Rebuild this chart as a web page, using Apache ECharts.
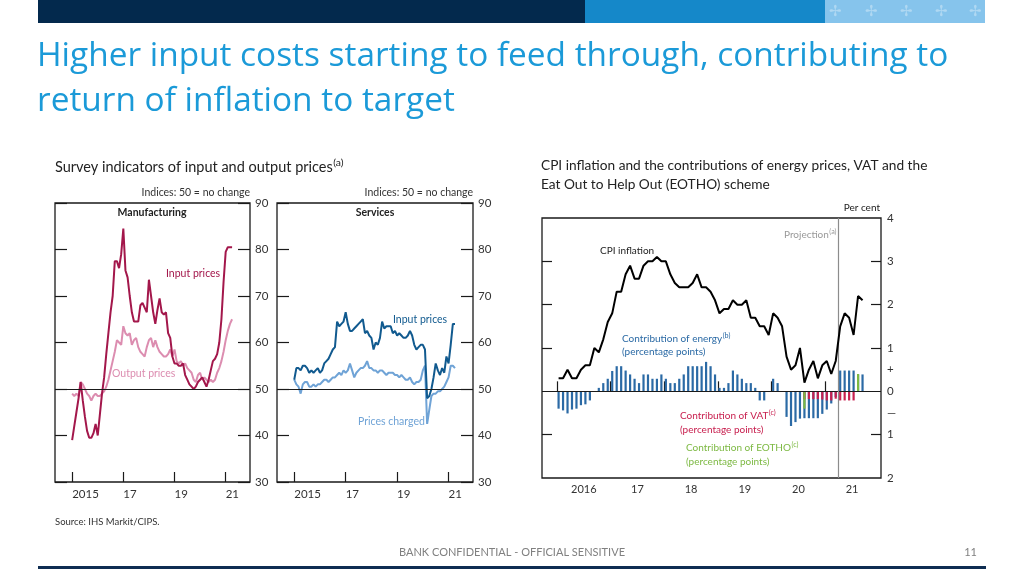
<!DOCTYPE html>
<html><head><meta charset="utf-8">
<script src="https://cdn.jsdelivr.net/npm/echarts@6/dist/echarts.min.js"></script>
<style>html,body{margin:0;padding:0;background:#fff}#c{width:1024px;height:576px}</style>
</head><body><div id="c"></div>
<script>
// ---------------- DATA ----------------
// Survey indicators, monthly from Jan 2015
const surveyStart = '2015-01';
const mfgInput = [39,42,45,48,51.5,47.5,44,41,39.5,39.5,40.5,42.5,
  40,44.5,49,52.5,57.5,62,66.5,70,77.5,77.5,76,79,
  84.5,75.5,74,70,66.5,64.5,64.5,64.5,68,68.5,67.5,66.5,
  73.5,70,66.5,64,67,69.5,66.5,66,66.5,62,61,57,
  55.5,55.5,55,55,55.5,53,52,51,50.5,50,50.5,51.5,
  52,52.5,51.5,50.5,52,54,56,56.5,57.5,60,65,73,79.5,80.5,80.5,80.5];
const mfgOutput = [49,48.5,49,48.5,51.5,51,50,49,48.5,47.5,48.5,49,
  48.5,48.5,49,49.5,50.5,52,54,56,58,60.5,60,59.5,
  63.5,62,61.5,62,59.5,60.5,61,59,58,57.5,57,59,
  60.5,61,59,60.5,59,58,57.5,57,57,57.5,58.5,57,
  58.5,56,55.5,56,55,55.5,54.5,54,53.5,52,51.5,53,
  53.5,52,52.5,52,51.5,52,51.5,52,53.5,54.5,56,58,60.5,62.5,64,65];
const svcInput = [52,54.5,54.5,54,55,55,54.5,53.5,54,53.5,54,54.5,
  53.5,54,55.5,56,56.5,57.5,58.5,59,64.5,63.5,64,64.5,
  66.5,64,62.5,62.5,63,63.5,64,64.5,65,62,62.5,61.5,
  61,58.5,60,59.5,61,64.5,63,63.5,63.5,63.5,62,62.5,
  61.5,62,61.5,61,61,61.5,62.5,61.5,59.5,58.5,59,59.5,
  59.5,58.5,48,48.5,50,52.5,55.5,54,53,54.5,53.5,57,55.5,59.5,64,64];
const svcCharged = [52,51,50.5,49,51,51.5,51.5,50.5,50.5,51,50.5,51,
  51,51.5,52,52,51.5,52,52.5,52.5,53,53.5,53,54,
  53.5,54,55.5,54,52.5,53.5,54,54.5,54.5,55,56,54.5,
  54.5,54,54,53.5,54,54,53.5,53,53.5,53.5,53.5,53,
  53,52.5,53,52.5,52,52,52.5,51.5,51,51.5,51.5,52,
  54,55,42.5,45.5,48.5,49,49,49.5,49.5,50,50.5,51.5,52.5,55,55,54.5];
const surveyYearTicks = [2015, 2017, 2019, 2021];

// CPI inflation and contributions, monthly from Jan 2016
const cpiStart = '2016-01';
const cpiInflation = [0.3,0.3,0.5,0.3,0.3,0.5,0.6,0.6,1.0,0.9,1.2,1.6,
  1.8,2.3,2.3,2.7,2.9,2.6,2.6,2.9,3.0,3.0,3.1,3.0,
  3.0,2.7,2.5,2.4,2.4,2.4,2.5,2.7,2.4,2.4,2.3,2.1,
  1.8,1.9,1.9,2.1,2.0,2.0,2.1,1.7,1.7,1.5,1.5,1.3,
  1.8,1.7,1.5,0.8,0.5,0.6,1.0,0.2,0.5,0.7,0.3,0.6,
  0.7,0.4,0.7,1.5,1.8,1.7,1.3,2.2,2.1];
const energyContribution = [-0.40,-0.44,-0.51,-0.42,-0.40,-0.32,-0.30,-0.21,0,0.08,0.19,0.29,
  0.47,0.58,0.58,0.48,0.39,0.29,0.19,0.39,0.39,0.29,0.29,0.39,
  0.29,0.19,0.19,0.29,0.39,0.58,0.58,0.58,0.58,0.68,0.58,0.39,
  0.08,0.08,0.19,0.48,0.39,0.29,0.19,0.19,0.08,-0.21,-0.21,0,
  0.29,0.19,0,-0.59,-0.80,-0.71,-0.63,-0.62,-0.62,-0.62,-0.62,-0.52,
  -0.42,-0.28,-0.13,0.48,0.48,0.48,0.48,0.39,0.39];
const vatContribution = [0,0,0,0,0,0,0,0,0,0,0,0,
  0,0,0,0,0,0,0,0,0,0,0,0,
  0,0,0,0,0,0,0,0,0,0,0,0,
  0,0,0,0,0,0,0,0,0,0,0,0,
  0,0,0,0,0,0,0,-0.18,-0.18,-0.18,-0.18,-0.19,
  -0.21,-0.21,-0.17,-0.21,-0.21,-0.21,-0.21,0,0];
const eothoContribution = [0,0,0,0,0,0,0,0,0,0,0,0,
  0,0,0,0,0,0,0,0,0,0,0,0,
  0,0,0,0,0,0,0,0,0,0,0,0,
  0,0,0,0,0,0,0,0,0,0,0,0,
  0,0,0,0,0,0,0,-0.40,0,0,0,0,
  0,0,0,0,0,0,0,0.40,0];
const cpiYearTicks = [2016, 2017, 2018, 2019, 2020, 2021];
const cpiYearLabels = ['2016', '17', '18', '19', '20', '21'];
const projectionStart = 2021.25;

// ---------------- HELPERS ----------------
const FONT = 'Lato, "Open Sans", sans-serif';
const TITLE_FONT = '"Open Sans", Lato, sans-serif';
function monthPos(start, i, off) {
  const p = start.split('-').map(Number);
  return p[0] + (p[1] - 1 + i + (off || 0)) / 12;
}
function pairs(start, vals, off) { return vals.map((v, i) => [monthPos(start, i, off), v]); }
const INK = '#1a1a1a';

const colMfgIn = '#a3174b', colMfgOut = '#dc8db0';
const colSvcIn = '#115a8f', colSvcOut = '#6fa3d6';
const colEnergy = '#2b6aa5', colVat = '#c8204f', colEotho = '#7db943';

const mctx = document.createElement('canvas').getContext('2d');
function measure(text, font) { mctx.font = font; return mctx.measureText(text).width; }

function surveyX(gi) {
  return { type: 'value', gridIndex: gi, min: 2014.33, max: 2021.95,
    axisLine: { show: false }, splitLine: { show: false },
    axisTick: { show: true, inside: true, length: 10, customValues: surveyYearTicks, lineStyle: { color: INK, width: 1.2 } },
    axisLabel: { customValues: surveyYearTicks, formatter: v => v === surveyYearTicks[0] ? String(v) : String(v).slice(2),
      align: 'left', color: '#333', fontSize: 11.5, margin: 6, fontFamily: FONT } };
}
function surveyY(gi, pos) {
  return { type: 'value', gridIndex: gi, position: pos, min: 30, max: 90, interval: 10,
    axisLine: { show: false }, splitLine: { show: false },
    axisTick: { show: true, inside: true, length: 12, lineStyle: { color: INK, width: 1.2 } },
    axisLabel: { show: pos === 'right', margin: 5, color: '#333', fontSize: 11.5, fontFamily: FONT } };
}
function cpiY(pos) {
  return { type: 'value', gridIndex: 2, position: pos, min: -2, max: 4,
    axisLine: { show: false }, splitLine: { show: false },
    axisTick: { show: true, inside: true, length: 10, customValues: [-1, 1, 2, 3], lineStyle: { color: INK, width: 1.2 } },
    axisLabel: { show: pos === 'right', customValues: [-2, -1, -0.5, 0, 0.5, 1, 2, 3, 4],
      formatter: v => v === 0.5 ? '+' : (v === -0.5 ? '—' : String(Math.abs(v))),
      margin: 6, color: '#333', fontSize: 11.5, fontFamily: FONT } };
}
const hLine = (val, axisKey, color) => ({ silent: true, symbol: 'none', animation: false,
  label: { show: false }, lineStyle: { color: color || INK, width: 1.2, type: 'solid' },
  data: [{ [axisKey]: val }] });

function fontStr(o) { return (o.weight || 'normal') + ' ' + (o.size || 11) + 'px ' + (o.family || FONT); }
function txt(x, y, text, o) {
  o = o || {};
  return { type: 'text', x: x, y: y, silent: true, z: 50,
    style: { text: text, fill: o.color || '#222', align: o.align || 'left', verticalAlign: 'middle', font: fontStr(o) } };
}
// main text plus a raised superscript placed just after it
function supTxt(x, y, main, sup, o) {
  o = o || {};
  const size = o.size || 11;
  const so = Object.assign({}, o, { size: Math.round(size * 0.72 * 10) / 10 });
  const wm = measure(main, fontStr(o)), ws = measure(sup, fontStr(so));
  const x0 = o.align === 'right' ? x - wm - ws : x;
  return [txt(x0, y, main, Object.assign({}, o, { align: 'left' })),
          txt(x0 + wm + 0.5, y - size * 0.32, sup, Object.assign({}, so, { align: 'left' }))];
}

// ---------------- CHART ----------------
const chart = echarts.init(document.getElementById('c'));
const gridStyle = { show: true, borderColor: INK, borderWidth: 1.3, backgroundColor: 'transparent' };

const graphics = [
  { type: 'rect', shape: { x: 38, y: 0, width: 547, height: 23 }, style: { fill: '#03294d' }, silent: true },
  { type: 'rect', shape: { x: 585, y: 0, width: 240, height: 23 }, style: { fill: '#1588c9' }, silent: true },
  { type: 'rect', shape: { x: 825, y: 0, width: 160, height: 23 }, style: { fill: '#86c4ec' }, silent: true },
  txt(37, 56, 'Higher input costs starting to feed through, contributing to', { size: 33.4, color: '#1b9ad8', family: TITLE_FONT }),
  txt(37, 101, 'return of inflation to target', { size: 33.4, color: '#1b9ad8', family: TITLE_FONT }),
  ...supTxt(55, 167, 'Survey indicators of input and output prices', '(a)', { size: 14.5 }),
  txt(250, 193, 'Indices: 50 = no change', { align: 'right', size: 10.5, color: '#333' }),
  txt(473, 193, 'Indices: 50 = no change', { align: 'right', size: 10.5, color: '#333' }),
  txt(152, 213, 'Manufacturing', { align: 'center', size: 10.5, weight: 'bold' }),
  txt(375, 213, 'Services', { align: 'center', size: 10.5, weight: 'bold' }),
  txt(166, 274, 'Input prices', { size: 10.5, color: colMfgIn }),
  txt(112, 374, 'Output prices', { size: 10.5, color: colMfgOut }),
  txt(393, 320, 'Input prices', { size: 10.5, color: colSvcIn }),
  txt(358, 422, 'Prices charged', { size: 10.5, color: colSvcOut }),
  txt(541, 166, 'CPI inflation and the contributions of energy prices, VAT and the', { size: 13.7 }),
  txt(541, 185, 'Eat Out to Help Out (EOTHO) scheme', { size: 13.7 }),
  txt(880, 208, 'Per cent', { align: 'right', size: 10 }),
  ...supTxt(836, 235, 'Projection', '(a)', { align: 'right', size: 10, color: '#999' }),
  txt(600, 251, 'CPI inflation', { size: 10 }),
  ...supTxt(622, 339, 'Contribution of energy', '(b)', { size: 10, color: colEnergy }),
  txt(622, 352, '(percentage points)', { size: 10, color: colEnergy }),
  ...supTxt(680, 416, 'Contribution of VAT', '(c)', { size: 10, color: colVat }),
  txt(680, 430, '(percentage points)', { size: 10, color: colVat }),
  ...supTxt(686, 448, 'Contribution of EOTHO', '(c)', { size: 10, color: colEotho }),
  txt(686, 462, '(percentage points)', { size: 10, color: colEotho }),
  txt(55, 522, 'Source: IHS Markit/CIPS.', { size: 9.5, color: '#333' }),
  txt(512, 552, 'BANK CONFIDENTIAL - OFFICIAL SENSITIVE', { align: 'center', size: 11, color: '#808080' }),
  txt(977, 552, '11', { align: 'right', size: 11, color: '#808080' }),
  { type: 'rect', shape: { x: 38, y: 566, width: 948, height: 3 }, style: { fill: '#0f2d52' }, silent: true }
];
[835, 871, 906, 941, 975].forEach(x => graphics.push(txt(x, 11, '✢', { align: 'center', size: 15, color: 'rgba(255,255,255,0.35)' })));

chart.setOption({
  animation: false,
  backgroundColor: '#ffffff',
  grid: [
    Object.assign({ left: 55, top: 203, width: 195, height: 279 }, gridStyle),
    Object.assign({ left: 277, top: 203, width: 196, height: 279 }, gridStyle),
    Object.assign({ left: 542, top: 218, width: 339, height: 260 }, gridStyle)
  ],
  xAxis: [
    surveyX(0), surveyX(1),
    { type: 'value', gridIndex: 2, min: 2015.72, max: 2022.04,
      axisLine: { show: false }, splitLine: { show: false },
      axisTick: { show: true, inside: true, length: 10, customValues: cpiYearTicks, lineStyle: { color: INK, width: 1.2 } },
      axisLabel: { customValues: cpiYearTicks.map(y => y + 0.5), formatter: v => cpiYearLabels[cpiYearTicks.indexOf(Math.floor(v))],
        color: '#333', fontSize: 11, margin: 6, fontFamily: FONT } }
  ],
  yAxis: [surveyY(0, 'right'), surveyY(0, 'left'), surveyY(1, 'right'), surveyY(1, 'left'), cpiY('right'), cpiY('left')],
  graphic: graphics,
  series: [
    { type: 'line', xAxisIndex: 0, yAxisIndex: 0, data: pairs(surveyStart, mfgOutput), symbol: 'none',
      lineStyle: { color: colMfgOut, width: 2 }, markLine: hLine(50, 'yAxis'), z: 3 },
    { type: 'line', xAxisIndex: 0, yAxisIndex: 0, data: pairs(surveyStart, mfgInput), symbol: 'none',
      lineStyle: { color: colMfgIn, width: 2 }, z: 4 },
    { type: 'line', xAxisIndex: 1, yAxisIndex: 2, data: pairs(surveyStart, svcCharged), symbol: 'none',
      lineStyle: { color: colSvcOut, width: 2 }, markLine: hLine(50, 'yAxis'), z: 3 },
    { type: 'line', xAxisIndex: 1, yAxisIndex: 2, data: pairs(surveyStart, svcInput), symbol: 'none',
      lineStyle: { color: colSvcIn, width: 2 }, z: 4 },
    { type: 'bar', xAxisIndex: 2, yAxisIndex: 4, stack: 'contrib', barWidth: 2.2, data: pairs(cpiStart, energyContribution, 0.35),
      itemStyle: { color: colEnergy }, markLine: hLine(0, 'yAxis') },
    { type: 'bar', xAxisIndex: 2, yAxisIndex: 4, stack: 'contrib', barWidth: 2.2, data: pairs(cpiStart, vatContribution, 0.35),
      itemStyle: { color: colVat } },
    { type: 'bar', xAxisIndex: 2, yAxisIndex: 4, stack: 'contrib', barWidth: 2.2, data: pairs(cpiStart, eothoContribution, 0.35),
      itemStyle: { color: colEotho }, markLine: hLine(projectionStart, 'xAxis', '#8c8c8c') },
    { type: 'line', xAxisIndex: 2, yAxisIndex: 4, data: pairs(cpiStart, cpiInflation, 0.35), symbol: 'none',
      lineStyle: { color: '#000', width: 2 }, z: 5 }
  ]
});
</script>
</body></html>
